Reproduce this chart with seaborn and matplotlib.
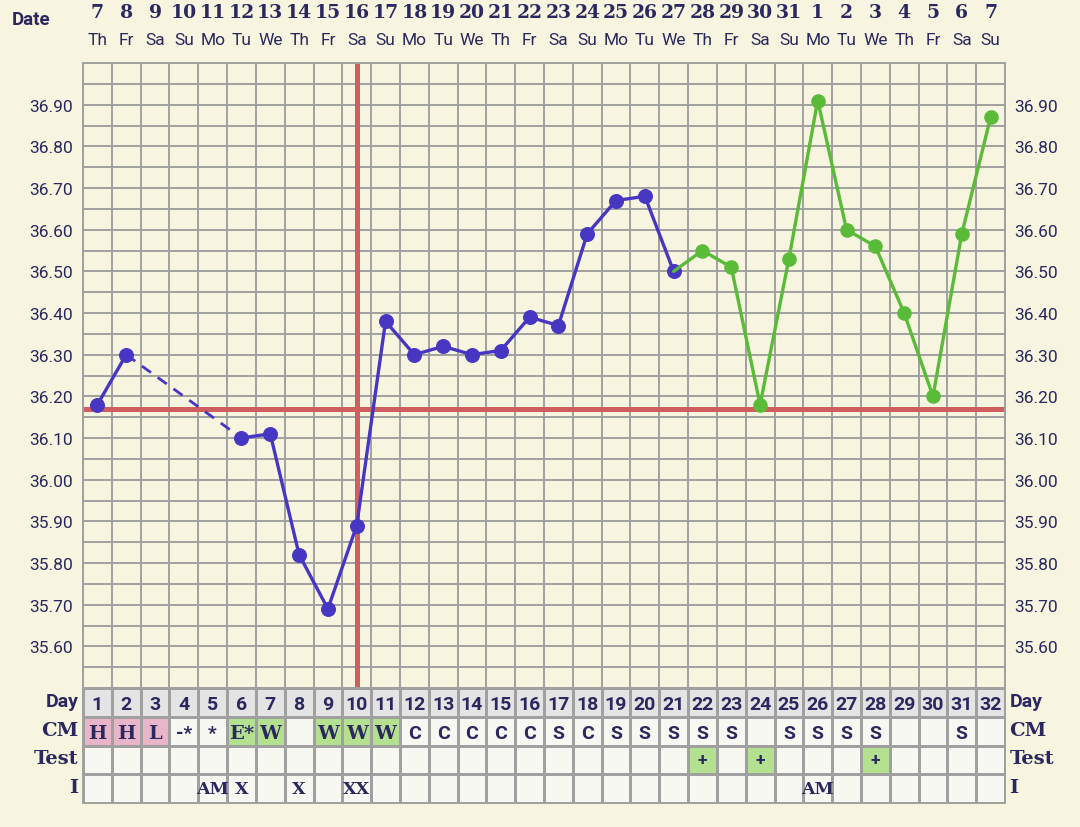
import matplotlib
matplotlib.use("Agg")
import matplotlib.pyplot as plt
import matplotlib.transforms as mtransforms
from matplotlib.colors import ListedColormap
import numpy as np
import pandas as pd
import seaborn as sns

# ---------------------------------------------------------------------------
# Chart data
# ---------------------------------------------------------------------------

cycle_days = list(range(1, 33))
dates = [7, 8, 9, 10, 11, 12, 13, 14, 15, 16, 17, 18, 19, 20, 21, 22,
         23, 24, 25, 26, 27, 28, 29, 30, 31, 1, 2, 3, 4, 5, 6, 7]
weekdays = ["Th", "Fr", "Sa", "Su", "Mo", "Tu", "We", "Th", "Fr", "Sa", "Su",
            "Mo", "Tu", "We", "Th", "Fr", "Sa", "Su", "Mo", "Tu", "We", "Th",
            "Fr", "Sa", "Su", "Mo", "Tu", "We", "Th", "Fr", "Sa", "Su"]

# basal temperature, NaN = no reading
temps = [36.18, 36.30, np.nan, np.nan, np.nan, 36.10, 36.11, 35.82, 35.69,
         35.89, 36.38, 36.30, 36.32, 36.30, 36.31, 36.39, 36.37, 36.59,
         36.67, 36.68, 36.50, 36.55, 36.51, 36.18, 36.53, 36.91, 36.60,
         36.56, 36.40, 36.20, 36.59, 36.87]
second_phase_start = 21          # green line starts from this day
coverline_temp = 36.17
coverline_day = 10

cm_codes = ["H", "H", "L", "-*", "*", "E*", "W", "", "W", "W", "W", "C", "C",
            "C", "C", "C", "S", "C", "S", "S", "S", "S", "S", "", "S", "S",
            "S", "S", "", "", "S", ""]
test_codes = [""] * 21 + ["+", "", "+", "", "", "", "+", "", "", "", ""]
intercourse = ["", "", "", "", "AM", "X", "", "X", "", "XX"] + [""] * 15 + \
              ["AM"] + [""] * 6

ytick_values = [35.6, 35.7, 35.8, 35.9, 36.0, 36.1, 36.2, 36.3, 36.4, 36.5,
                36.6, 36.7, 36.8, 36.9]

# ---------------------------------------------------------------------------
# Styling
# ---------------------------------------------------------------------------

BG = "#f7f4df"
GRID = "#a0a0a0"
INK = "#2a285e"
BLUE = "#4636c2"
GREEN = "#59bb38"
RED = "#cf5f5f"
CELL = "#f8f8f3"
DAYCELL = "#e4e4e4"
PINK = "#e9b5c8"
LIGHTGREEN = "#b3e190"
SANS = "Roboto"
SLAB = "DejaVu Serif"

sns.set_theme(style="white")
plt.rcParams["font.family"] = [SANS, "DejaVu Sans"]

W, H = 1080, 828


def px_axes(left, top, right, bottom):
    return [left / W, 1 - bottom / H, (right - left) / W, (bottom - top) / H]


fig = plt.figure(figsize=(W / 100, H / 100), dpi=100, facecolor=BG)

# ---------------------------------------------------------------------------
# Temperature chart
# ---------------------------------------------------------------------------

ax = fig.add_axes(px_axes(83, 64, 1005, 689))
ax.set_facecolor(BG)

df = pd.DataFrame({"day": cycle_days, "temp": temps})
valid = df.dropna()

phase1 = valid[valid["day"] <= second_phase_start]
phase2 = valid[valid["day"] >= second_phase_start]

# split phase 1 into runs of consecutive days; gaps get a dashed link
runs = np.split(phase1, np.where(np.diff(phase1["day"]) > 1)[0] + 1)
for run in runs:
    sns.lineplot(data=run, x="day", y="temp", ax=ax, color=BLUE, lw=2.4,
                 marker="o", markersize=10, markeredgecolor=BLUE, zorder=4)
for a, b in zip(runs[:-1], runs[1:]):
    link = pd.concat([a.tail(1), b.head(1)])
    sns.lineplot(data=link, x="day", y="temp", ax=ax, color=BLUE, lw=2.0,
                 linestyle=(0, (4, 3)), zorder=3)

sns.lineplot(data=phase2, x="day", y="temp", ax=ax, color=GREEN, lw=2.4,
             zorder=5)
sns.scatterplot(data=phase2[phase2["day"] > second_phase_start], x="day",
                y="temp", ax=ax, color=GREEN, s=110, edgecolor=GREEN,
                linewidth=0, zorder=6)

ax.axvline(coverline_day, color=RED, lw=3.6, zorder=2)
ax.axhline(coverline_temp, color=RED, lw=3.6, zorder=2)

ax.set_xlim(0.5, 32.5)
ax.set_ylim(35.5, 37.0)
ax.yaxis.remove_overlapping_locs = False
ax.set_xticks(np.arange(0.5, 33, 1), minor=True)
ax.set_yticks(np.arange(35.5, 37.01, 0.05), minor=True)
ax.set_xticks([])
ax.set_yticks(ytick_values)
ax.set_yticklabels([f"{v:.2f}" for v in ytick_values])
ax.grid(False)
ax.grid(which="minor", color=GRID, lw=1.4, zorder=1)
ax.tick_params(axis="y", which="both", length=0, labelsize=12.5,
               labelcolor=INK, labelright=True, pad=7)
ax.tick_params(axis="x", which="both", length=0)
ax.set_xlabel("")
ax.set_ylabel("")
for sp in ax.spines.values():
    sp.set_color(GRID)
    sp.set_linewidth(1.4)

# date header
hdr = ax.get_xaxis_transform()
for d, num, wd in zip(cycle_days, dates, weekdays):
    ax.text(d, 1.082, str(num), transform=hdr, ha="center", va="center",
            fontsize=13.5, fontweight="bold", color=INK, family=SLAB)
    ax.text(d, 1.037, wd, transform=hdr, ha="center", va="center",
            fontsize=12.5, color=INK)
ax.text(-0.035, 1.07, "Date", transform=ax.transAxes, ha="right",
        va="center", fontsize=13.5, fontweight="bold", color=INK)

# ---------------------------------------------------------------------------
# Observation table
# ---------------------------------------------------------------------------

tab = fig.add_axes(px_axes(83, 689, 1005, 804))

kind = np.zeros((4, len(cycle_days)))
kind[0, :] = 1
for i, c in enumerate(cm_codes):
    if c in ("H", "L"):
        kind[1, i] = 2
    elif c in ("W", "E*"):
        kind[1, i] = 3
for i, t in enumerate(test_codes):
    if t == "+":
        kind[2, i] = 3

sns.heatmap(kind, ax=tab, cmap=ListedColormap([CELL, DAYCELL, PINK, LIGHTGREEN]),
            vmin=-0.5, vmax=3.5, cbar=False, linewidths=1.8, linecolor=GRID,
            xticklabels=False, yticklabels=False)
for sp in tab.spines.values():
    sp.set_visible(True)
    sp.set_color(GRID)
    sp.set_linewidth(1.4)

slab_codes = {"H", "L", "W", "E*"}
for i in range(len(cycle_days)):
    x = i + 0.5
    tab.text(x, 0.55, str(cycle_days[i]), ha="center", va="center",
             fontsize=14, fontweight="bold", color=INK)
    c = cm_codes[i]
    if c:
        tab.text(x, 1.55, c, ha="center", va="center", fontsize=14,
                 fontweight="bold", color=INK,
                 family=SLAB if c in slab_codes else SANS)
    if test_codes[i]:
        tab.text(x, 2.5, test_codes[i], ha="center", va="center",
                 fontsize=12.5, fontweight="bold", color=INK)
    if intercourse[i]:
        tab.text(x, 3.5, intercourse[i], ha="center", va="center",
                 fontsize=12.5, fontweight="bold", color=INK, family=SLAB)

row_labels = [("Day", SANS), ("CM", SLAB), ("Test", SLAB), ("I", SLAB)]
lab_tr = mtransforms.blended_transform_factory(tab.transAxes, tab.transData)
for r, (lab, fam) in enumerate(row_labels):
    for xa, ha in ((-0.005, "right"), (1.005, "left")):
        tab.text(xa, r + 0.45, lab, transform=lab_tr, ha=ha, va="center",
                 fontsize=14, fontweight="bold", color=INK, family=fam)

fig.savefig("out.png", dpi=100, facecolor=BG)
